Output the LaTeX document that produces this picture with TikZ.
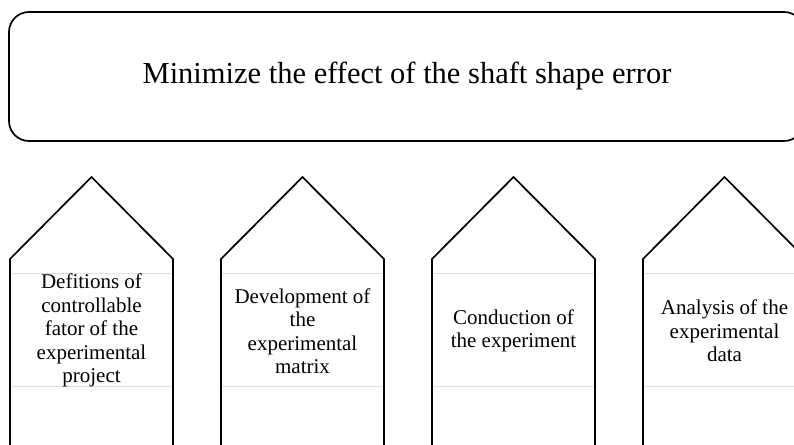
\documentclass[tikz,border=0pt]{standalone}
\usepackage{fontspec}
\setmainfont{Liberation Serif}
\begin{document}
\begin{tikzpicture}[x=1pt,y=-1pt,
  outline/.style={draw=black,line width=1.7pt,line join=miter},
  guide/.style={draw=black!12,line width=0.8pt},
  steptext/.style={align=center,font=\fontsize{21}{23.5}\selectfont,inner sep=0pt},
  titletext/.style={font=\fontsize{30.5}{36}\selectfont,inner sep=0pt}]
\useasboundingbox (0,0) rectangle (794,444);
\clip (0,0) rectangle (794,444);
% top box
\draw[outline,rounded corners=20pt] (9,12) rectangle (804,141);
\node[titletext] (title) at (407,76) {Minimize the effect of the shaft shape error};
% pentagon arrows
\foreach \L/\n in {10/a,221/b,432/c,643/d}{
  \pgfmathsetmacro{\R}{\L+163}
  \pgfmathsetmacro{\M}{\L+81.5}
  \draw[guide] (\L,273) -- (\R,273);
  \draw[guide] (\L,386) -- (\R,386);
  \draw[outline] (\L,460) -- (\L,259) -- (\M,177) -- (\R,259) -- (\R,460);
}
\node[steptext] (t1) at (91.5,330.5) {Defitions of\\controllable\\fator of the\\experimental\\project};
\node[steptext] (t2) at (302.5,331) {Development of\\the\\experimental\\matrix};
\node[steptext] (t3) at (513.5,331) {Conduction of\\the experiment};
\node[steptext] (t4) at (724.5,331) {Analysis of the\\experimental\\data};
\end{tikzpicture}
\end{document}
